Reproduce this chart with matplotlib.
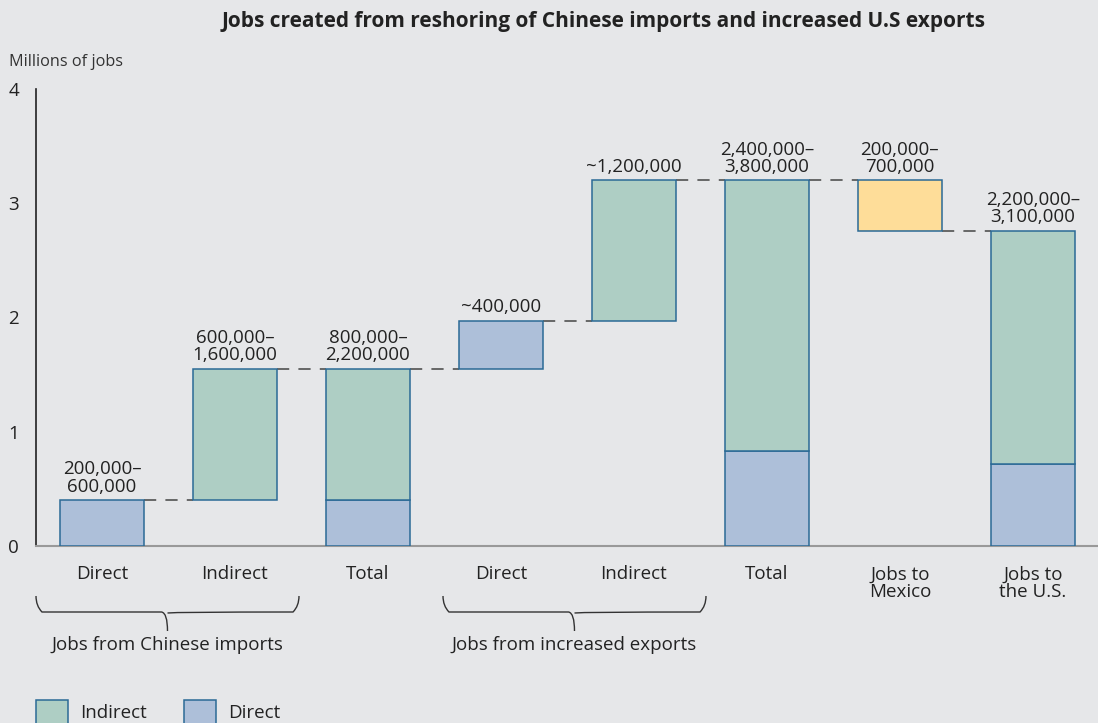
import matplotlib.pyplot as plt
from matplotlib.patches import Rectangle
from matplotlib.path import Path
from matplotlib.patches import PathPatch

plt.rcParams['font.family'] = ['Open Sans', 'DejaVu Sans']

# data (millions of jobs)
categories = ["Direct", "Indirect", "Total", "Direct", "Indirect", "Total",
              "Jobs to\nMexico", "Jobs to\nthe U.S."]
direct_bottom = [0, None, 0, 1.55, None, 0, None, 0]
direct_top = [0.40, None, 0.40, 1.97, None, 0.83, None, 0.72]
indirect_bottom = [None, 0.40, 0.40, None, 1.97, 0.83, None, 0.72]
indirect_top = [None, 1.55, 1.55, None, 3.20, 3.20, None, 2.76]
mexico_bottom = [None, None, None, None, None, None, 2.76, None]
mexico_top = [None, None, None, None, None, None, 3.20, None]
value_labels = ["200,000–\n600,000", "600,000–\n1,600,000", "800,000–\n2,200,000",
                "~400,000", "~1,200,000", "2,400,000–\n3,800,000",
                "200,000–\n700,000", "2,200,000–\n3,100,000"]
connector_levels = [0.40, 1.55, 1.55, 1.97, 3.20, 3.20, 2.76]
groups = ["Jobs from Chinese imports", "Jobs from increased exports"]
yticks = [0, 1, 2, 3, 4]

bg = '#e6e7e9'
c_ind = '#aecec4'
c_dir = '#adbfd9'
c_mex = '#fedd99'
edge = '#2b6a96'
txt = '#222222'
fs = 13.5

fig = plt.figure(figsize=(10.98, 7.23), dpi=100, facecolor=bg)
ax = fig.add_axes([36 / 1098, 1 - 546 / 723, 1 - 36 / 1098, (546 - 89) / 723])
ax.set_facecolor(bg)

w = 0.63
x = list(range(len(categories)))
for bottoms, tops, col in [(direct_bottom, direct_top, c_dir),
                           (indirect_bottom, indirect_top, c_ind),
                           (mexico_bottom, mexico_top, c_mex)]:
    for i in x:
        if bottoms[i] is None:
            continue
        ax.bar(i, tops[i] - bottoms[i], bottom=bottoms[i], width=w, color=col,
               edgecolor=edge, linewidth=1.1, zorder=3)

# dashed connectors
for i, lev in enumerate(connector_levels):
    ax.plot([i + w / 2, i + 1 - w / 2], [lev, lev], color='#444444',
            linestyle=(0, (8, 6)), linewidth=1.1, zorder=2)

# value labels above bars
tops_all = [max(t for t in (a, b, c) if t is not None)
            for a, b, c in zip(direct_top, indirect_top, mexico_top)]
for i, lab in enumerate(value_labels):
    ax.text(i, tops_all[i] + 0.04, lab, ha='center', va='bottom', fontsize=fs,
            color=txt, linespacing=0.95)

ax.set_xlim(-0.496, 7.49)
ax.set_ylim(0, 4)
ax.set_yticks(yticks)
ax.set_yticklabels([str(t) for t in yticks], fontsize=fs, color=txt, ha='left')
ax.tick_params(axis='y', length=0, pad=20)
ax.set_xticks(x)
ax.set_xticklabels(categories, fontsize=fs, color=txt, linespacing=1.0)
ax.tick_params(axis='x', length=0, pad=14)
for s in ['top', 'right']:
    ax.spines[s].set_visible(False)
ax.spines['left'].set_color('#222222')
ax.spines['left'].set_linewidth(1.2)
ax.spines['bottom'].set_color('#999999')
ax.spines['bottom'].set_linewidth(1.5)

# braces under groups
def brace(x0, x1, y_top, y_mid, y_tip):
    xc = (x0 + x1) / 2
    r = 6
    verts = [(x0, y_top), (x0, y_mid - r), (x0 + r, y_mid),
             (xc - r, y_mid), (xc, y_mid + 1), (xc, y_tip),
             (xc, y_mid + 1), (xc + r, y_mid),
             (x1 - r, y_mid), (x1, y_mid - r), (x1, y_top)]
    verts = [(vx / 1098, 1 - vy / 723) for vx, vy in verts]
    codes = [Path.MOVETO, Path.CURVE3, Path.CURVE3, Path.LINETO, Path.CURVE3,
             Path.CURVE3, Path.MOVETO, Path.CURVE3, Path.LINETO, Path.CURVE3,
             Path.CURVE3]
    fig.patches.append(PathPatch(Path(verts, codes), transform=fig.transFigure,
                                 fill=False, edgecolor='#333333', linewidth=1.0))
    return xc

for (x0, x1), g in zip([(36, 299), (443, 706)], groups):
    xc = brace(x0, x1, 596, 612, 631)
    fig.text(xc / 1098, 1 - 645 / 723, g, ha='center', va='center',
             fontsize=fs, color=txt)

fig.text(604 / 1098, 1 - 22 / 723,
         "Jobs created from reshoring of Chinese imports and increased U.S exports",
         ha='center', va='center', fontsize=15, fontweight='bold', color=txt)
fig.text(9 / 1098, 1 - 62 / 723, "Millions of jobs", ha='left', va='center',
         fontsize=11.7, color='#333333')

# legend
for lx, col, lab in [(36, c_ind, "Indirect"), (184, c_dir, "Direct")]:
    fig.patches.append(Rectangle((lx / 1098, 1 - 728 / 723), 32 / 1098, 28 / 723,
                                 transform=fig.transFigure, facecolor=col,
                                 edgecolor=edge, linewidth=1.1))
    fig.text((lx + 44) / 1098, 1 - 713 / 723, lab, ha='left', va='center',
             fontsize=fs, color=txt)

fig.savefig('out.png', dpi=100, facecolor=bg)
